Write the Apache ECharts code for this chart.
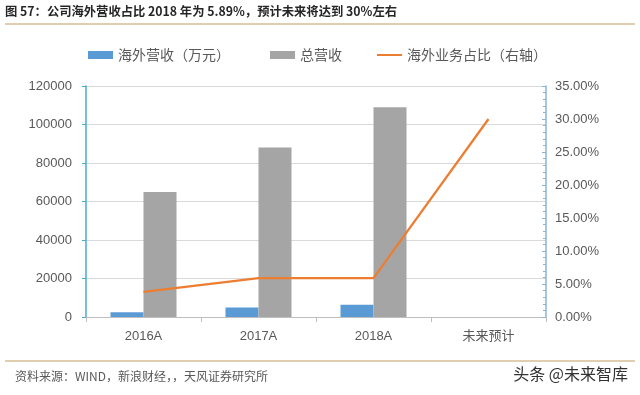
<!DOCTYPE html>
<html>
<head>
<meta charset="utf-8">
<script src="https://cdn.jsdelivr.net/npm/echarts@6/dist/echarts.min.js"></script>
<style>
html,body{margin:0;padding:0;background:#fff;}
#main{width:640px;height:395px;}
</style>
</head>
<body>
<div id="main"></div>
<script>
var categories = ['2016A', '2017A', '2018A', '未来预计'];
var overseasRevenue = [2500, 5000, 6400, null];
var totalRevenue = [65000, 88000, 109000, null];
var overseasShare = [0.038, 0.059, 0.0589, 0.30];
var leftTicks = [0, 20000, 40000, 60000, 80000, 100000, 120000];
var rightTicks = [0, 0.05, 0.10, 0.15, 0.20, 0.25, 0.30, 0.35];

var FONT = '"Noto Sans CJK SC", "Microsoft YaHei", sans-serif';
var chart = echarts.init(document.getElementById('main'), null, {renderer: 'canvas'});
var option = {
  backgroundColor: '#fff',
  animation: false,
  textStyle: {fontFamily: FONT},
  grid: {left: 86, right: 94, top: 86, bottom: 78, containLabel: false},
  legend: [
    {left: 83, top: 43, itemWidth: 25, itemHeight: 8, itemGap: 0,
     textStyle: {fontSize: 14, color: '#595959', fontFamily: FONT},
     data: [{name: '海外营收（万元）', icon: 'rect'}]},
    {left: 265, top: 43, itemWidth: 25, itemHeight: 8, itemGap: 0,
     textStyle: {fontSize: 14, color: '#595959', fontFamily: FONT},
     data: [{name: '总营收', icon: 'rect'}]},
    {left: 372, top: 43, itemWidth: 25, itemHeight: 8, itemGap: 0,
     textStyle: {fontSize: 14, color: '#595959', fontFamily: FONT},
     data: [{name: '海外业务占比（右轴）', icon: 'path://M0,3 H25 V5 H0 Z'}]}
  ],
  xAxis: {
    type: 'category',
    data: categories,
    boundaryGap: true,
    axisLine: {lineStyle: {color: '#BFBFBF', width: 1}},
    axisTick: {show: true, length: 5, lineStyle: {color: '#BFBFBF'}},
    axisLabel: {fontSize: 13, color: '#595959', margin: 13, fontFamily: '"Liberation Sans", "Noto Sans CJK SC", sans-serif'}
  },
  yAxis: [
    {
      type: 'value', min: 0, max: 120000, interval: 20000,
      axisLine: {show: true, lineStyle: {color: '#4BACC6', width: 1.5}},
      axisTick: {show: true, length: 4, lineStyle: {color: '#4BACC6'}},
      axisLabel: {fontSize: 13, color: '#595959', margin: 14, fontFamily: '"Liberation Sans", sans-serif',
        formatter: function (v) { return leftTicks.indexOf(v) >= 0 ? String(v) : ''; }},
      splitLine: {show: true, lineStyle: {color: '#D9D9D9', width: 1}}
    },
    {
      type: 'value', min: 0, max: 0.35, interval: 0.05,
      position: 'right',
      axisLine: {show: true, lineStyle: {color: '#8DB3D6', width: 1.5}},
      axisTick: {show: true, length: 4, inside: true, lineStyle: {color: '#8DB3D6'}},
      minorTick: {show: true, splitNumber: 5, length: 3, lineStyle: {color: '#8DB3D6'}},
      axisLabel: {fontSize: 13, color: '#595959', margin: 9, fontFamily: '"Liberation Sans", sans-serif',
        formatter: function (v) {
          for (var i = 0; i < rightTicks.length; i++) {
            if (Math.abs(rightTicks[i] - v) < 1e-9) return (rightTicks[i] * 100).toFixed(2) + '%';
          }
          return '';
        }},
      splitLine: {show: false}
    }
  ],
  series: [
    {
      name: '海外营收（万元）', type: 'bar', yAxisIndex: 0,
      data: overseasRevenue, barWidth: 33, barGap: '0%',
      itemStyle: {color: '#5B9BD5'}
    },
    {
      name: '总营收', type: 'bar', yAxisIndex: 0,
      data: totalRevenue, barWidth: 33, barGap: '0%',
      itemStyle: {color: '#A5A5A5'}
    },
    {
      name: '海外业务占比（右轴）', type: 'line', yAxisIndex: 1,
      data: overseasShare, symbol: 'none', showSymbol: false,
      itemStyle: {color: '#ED7D31'},
      lineStyle: {color: '#ED7D31', width: 2.25}
    }
  ],
  graphic: [
    {type: 'text', left: 5, top: 5, style: {text: '图 57：公司海外营收占比 2018 年为 5.89%，预计未来将达到 30%左右',
      fontSize: 12.3, fontWeight: 'bold', fill: '#262626', fontFamily: FONT}},
    {type: 'line', shape: {x1: 5, y1: 24, x2: 635, y2: 24}, style: {stroke: '#D6BE97', lineWidth: 1.5}},
    {type: 'line', shape: {x1: 5, y1: 361, x2: 635, y2: 361}, style: {stroke: '#D6BE97', lineWidth: 1.5}},
    {type: 'text', left: 15, top: 370, style: {text: '资料来源：WIND，新浪财经，，天风证券研究所',
      fontSize: 12, fill: '#595959', fontFamily: FONT}},
    {type: 'text', right: 12, top: 366, style: {text: '头条 @未来智库',
      fontSize: 16, fill: '#333333', fontFamily: FONT}}
  ]
};
chart.setOption(option);
</script>
</body>
</html>
